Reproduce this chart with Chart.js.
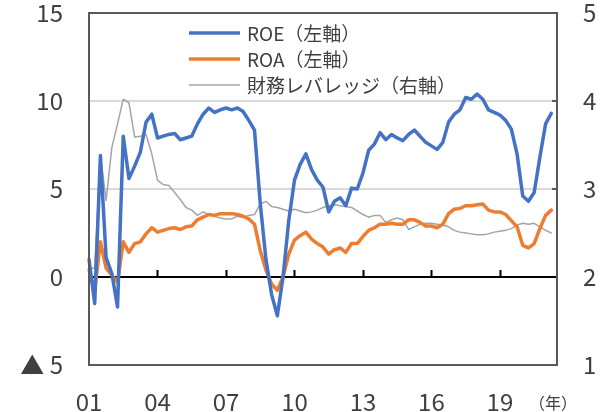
<!DOCTYPE html>
<html>
<head>
<meta charset="utf-8">
<script src="https://cdn.jsdelivr.net/npm/chart.js@4"></script>
<style>
  html, body { margin: 0; padding: 0; background: #fff; }
  #wrap { width: 616px; height: 412px; }
</style>
</head>
<body>
<div id="wrap"><canvas id="myChart" width="616" height="412"></canvas></div>
<script>
// quarterly, 2001Q1 .. 2021Q3 (last one empty)
const categories = [];
for (let y = 2001; y <= 2021; y++) {
    for (let q = 1; q <= 4; q++) {
        if (categories.length < 83) categories.push(y + 'Q' + q);
    }
}
const tickLabels = ['01', '04', '07', '10', '13', '16', '19'];

const roe = [1.0, -1.5, 6.9, 1.1, 0.2, -1.7, 8.0, 5.6, 6.3, 7.1, 8.8, 9.25,
    7.9, 8.0, 8.1, 8.15, 7.8, 7.9, 8.0, 8.7, 9.25, 9.6, 9.35, 9.5,
    9.6, 9.5, 9.6, 9.4, 8.9, 8.35, 4.2, 1.0, -1.0, -2.2, 0.0, 3.2,
    5.5, 6.4, 7.0, 6.1, 5.5, 5.1, 3.7, 4.3, 4.5, 4.05, 5.05, 5.0,
    5.9, 7.2, 7.55, 8.2, 7.8, 8.1, 7.9, 7.75, 8.1, 8.35, 8.0, 7.65,
    7.45, 7.25, 7.65, 8.8, 9.25, 9.5, 10.2, 10.1, 10.4, 10.1, 9.5, 9.35,
    9.2, 8.9, 8.4, 7.0, 4.6, 4.3, 4.8, 6.8, 8.7, 9.3];

const roa = [0.4, -0.75, 2.0, 0.5, 0.1, -0.3, 2.0, 1.4, 1.9, 2.0, 2.45, 2.8,
    2.55, 2.65, 2.75, 2.8, 2.7, 2.85, 2.9, 3.25, 3.4, 3.55, 3.5, 3.6,
    3.6, 3.6, 3.55, 3.45, 3.3, 3.0, 1.5, 0.4, -0.4, -0.75, 0.0, 1.3,
    2.1, 2.35, 2.55, 2.15, 1.9, 1.7, 1.3, 1.55, 1.65, 1.4, 1.9, 1.9,
    2.3, 2.65, 2.8, 3.0, 3.0, 3.05, 3.0, 3.0, 3.25, 3.25, 3.1, 2.9,
    2.9, 2.8, 3.0, 3.6, 3.85, 3.9, 4.05, 4.05, 4.1, 4.15, 3.8, 3.7,
    3.7, 3.55, 3.2, 2.85, 1.8, 1.65, 1.9, 2.75, 3.5, 3.8];

const leverage = [2.1, 2.1, 3.38, 2.87, 3.47, 3.74, 4.02, 3.98, 3.59, 3.6, 3.62, 3.4,
    3.1, 3.05, 3.04, 2.96, 2.88, 2.79, 2.76, 2.7, 2.74, 2.71, 2.69, 2.67,
    2.66, 2.66, 2.69, 2.68, 2.7, 2.71, 2.83, 2.86, 2.8, 2.79, 2.77, 2.75,
    2.77, 2.75, 2.73, 2.74, 2.76, 2.79, 2.81, 2.82, 2.81, 2.8, 2.79, 2.75,
    2.71, 2.68, 2.7, 2.7, 2.62, 2.65, 2.67, 2.65, 2.54, 2.57, 2.6, 2.61,
    2.61, 2.6, 2.59, 2.57, 2.53, 2.51, 2.5, 2.49, 2.48, 2.48, 2.49, 2.51,
    2.52, 2.53, 2.55, 2.59, 2.61, 2.6, 2.61, 2.57, 2.53, 2.5];

const seriesNames = ['ROE（左軸）', 'ROA（左軸）', '財務レバレッジ（右軸）'];
const seriesColors = ['#4472C4', '#ED7D31', '#A5A5A5'];

const FONT = '"Noto Sans CJK JP", "Noto Sans", sans-serif';
const TEXT = '#404040';

// zero line, x tick marks, frame, legend and the (年) mark
const decor = {
    id: 'decor',
    beforeDatasetsDraw(chart) {
        const { ctx, chartArea: a, scales } = chart;
        const y0 = scales.y.getPixelForValue(0);
        ctx.save();
        ctx.strokeStyle = '#000';
        ctx.lineWidth = 2;
        ctx.beginPath();
        ctx.moveTo(a.left, y0);
        ctx.lineTo(a.right, y0);
        for (let i = 12; i < categories.length; i += 12) {
            const x = Math.round(scales.x.getPixelForValue(i)) + 0.5;
            ctx.moveTo(x, y0);
            ctx.lineTo(x, y0 - 7);
        }
        ctx.stroke();
        ctx.restore();
    },
    afterDraw(chart) {
        const { ctx, chartArea: a, scales } = chart;
        ctx.save();
        ctx.strokeStyle = '#595959';
        ctx.lineWidth = 2;
        ctx.strokeRect(a.left, a.top, a.right - a.left, a.bottom - a.top);
        // right axis inner ticks
        ctx.beginPath();
        [3, 4].forEach(v => {
            const y = scales.y1.getPixelForValue(v);
            ctx.moveTo(a.right - 5, y);
            ctx.lineTo(a.right, y);
        });
        ctx.stroke();

        // legend
        ctx.font = '19px ' + FONT;
        ctx.textBaseline = 'middle';
        ctx.fillStyle = TEXT;
        const rows = [33, 59, 85];
        chart.data.datasets.forEach((ds, i) => {
            ctx.strokeStyle = ds.borderColor;
            ctx.lineWidth = i < 2 ? 3.5 : 1.5;
            ctx.beginPath();
            ctx.moveTo(189, rows[i]);
            ctx.lineTo(240, rows[i]);
            ctx.stroke();
            ctx.fillText(ds.label, 247, rows[i] + 1);
        });

        ctx.font = '16px ' + FONT;
        ctx.textAlign = 'center';
        ctx.fillText('（年）', 553, 403);
        ctx.restore();
    }
};

const noPad = s => { s.paddingTop = 0; s.paddingBottom = 0; s.paddingLeft = 0; s.paddingRight = 0; };

new Chart(document.getElementById('myChart').getContext('2d'), {
    type: 'line',
    data: {
        labels: categories,
        datasets: [
            { label: seriesNames[0], data: roe, borderColor: seriesColors[0], borderWidth: 3.5, yAxisID: 'y' },
            { label: seriesNames[1], data: roa, borderColor: seriesColors[1], borderWidth: 3.5, yAxisID: 'y' },
            { label: seriesNames[2], data: leverage, borderColor: seriesColors[2], borderWidth: 1.5, yAxisID: 'y1' },
        ].map(ds => ({ ...ds, pointRadius: 0, tension: 0, fill: false, borderJoinStyle: 'round', borderCapStyle: 'round' })),
    },
    options: {
        responsive: false,
        animation: false,
        layout: { padding: { top: 13, left: 0, right: 0, bottom: 0 } },
        plugins: { legend: { display: false }, tooltip: { enabled: false } },
        scales: {
            x: {
                type: 'category',
                offset: false,
                grid: { display: false, drawTicks: false },
                border: { display: false },
                afterFit: s => { s.height = 47; noPad(s); },
                ticks: {
                    autoSkip: false,
                    maxRotation: 0,
                    padding: 22,
                    color: TEXT,
                    font: { family: FONT, size: 24 },
                    callback: (v, i) => (i % 12 === 0 ? tickLabels[i / 12] || '' : ''),
                },
            },
            y: {
                position: 'left',
                min: -5,
                max: 15,
                afterFit: s => { s.width = 89; noPad(s); },
                border: { display: false },
                grid: {
                    drawTicks: false,
                    color: c => (c.tick.value === 5 || c.tick.value === 10 ? '#d9d9d9' : 'rgba(0,0,0,0)'),
                    lineWidth: 2,
                },
                ticks: {
                    stepSize: 5,
                    padding: 26,
                    color: TEXT,
                    font: { family: FONT, size: 24 },
                    callback: v => (v < 0 ? '▲ ' + Math.abs(v) : v),
                },
            },
            y1: {
                position: 'right',
                min: 1,
                max: 5,
                afterFit: s => { s.width = 59; noPad(s); },
                border: { display: false },
                grid: { display: false, drawTicks: false },
                ticks: {
                    stepSize: 1,
                    padding: 26,
                    color: TEXT,
                    font: { family: FONT, size: 24 },
                },
            },
        },
    },
    plugins: [decor],
});
</script>
</body>
</html>
